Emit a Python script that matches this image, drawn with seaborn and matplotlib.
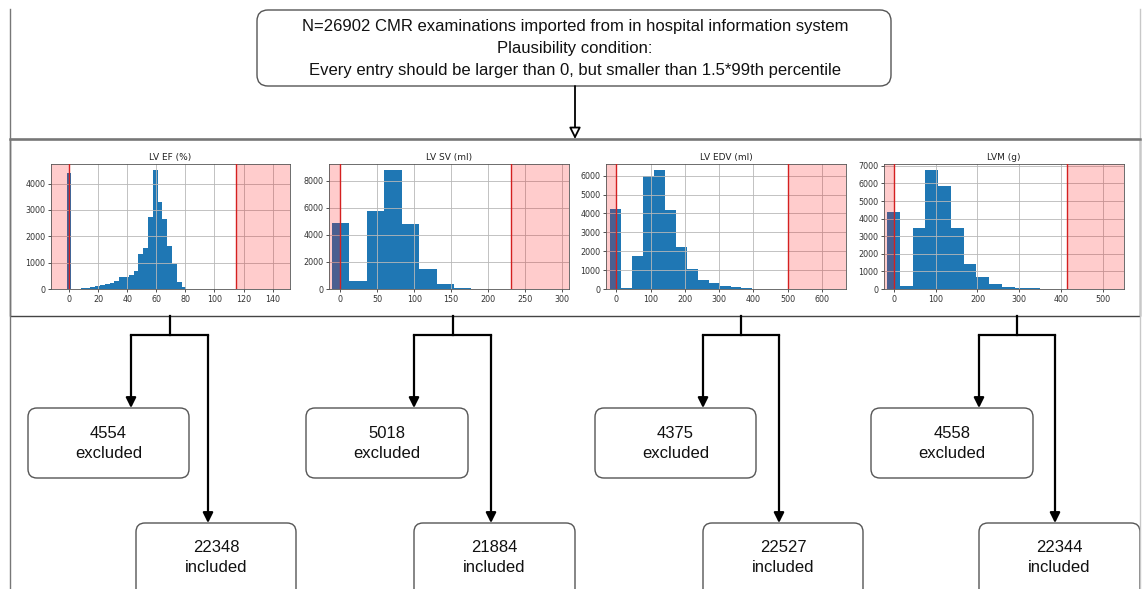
"""
Flow diagram of the CMR plausibility filter with one histogram per
measurement (LV EF, LV SV, LV EDV, LVM) and the excluded / included counts.
"""

import matplotlib
matplotlib.use("Agg")
import matplotlib.pyplot as plt
from matplotlib.patches import FancyBboxPatch, Rectangle
from matplotlib.ticker import MultipleLocator
import pandas as pd
import seaborn as sns

# ---- data -----------------------------------------------------------------
total_n = 26902
panel_titles = ["LV EF (%)", "LV SV (ml)", "LV EDV (ml)", "LVM (g)"]

ef_edges = [-1.9, 1.4, 4.7, 8.0, 11.3, 14.6, 17.9, 21.2, 24.5, 27.8, 31.1, 34.4,
            37.7, 41.0, 44.3, 47.6, 50.9, 54.2, 57.5, 60.8, 64.1, 67.4, 70.7,
            74.0, 77.3, 80.6, 83.9]
ef_counts = [4420, 0, 10, 30, 50, 80, 120, 170, 180, 220, 290, 440, 450, 520,
             700, 1320, 1550, 2730, 4520, 3320, 2660, 1620, 960, 250, 60, 10]

sv_edges = [-11.3, 12.3, 35.9, 59.5, 83.1, 106.7, 130.3, 153.9, 177.5, 201.1, 224.7]
sv_counts = [4890, 590, 5780, 8790, 4790, 1480, 370, 75, 15, 5]

edv_edges = [-18.8, 13.2, 45.2, 77.2, 109.2, 141.2, 173.2, 205.2, 237.2, 269.2,
             301.2, 333.2, 365.2, 397.2, 429.2, 461.2, 493.2]
edv_counts = [4230, 70, 1740, 6000, 6300, 4160, 2200, 1070, 490, 300, 160, 80,
              35, 15, 8, 4]

lvm_edges = [-16.8, 13.8, 44.4, 75.0, 105.6, 136.2, 166.8, 197.4, 228.0, 258.6,
             289.2, 319.8, 350.4, 381.0, 411.6]
lvm_counts = [4400, 170, 3490, 6770, 5860, 3450, 1400, 680, 265, 130, 60, 30, 15, 8]

# upper plausibility limit (1.5 * 99th percentile) per measurement
upper_limits = [114.5, 231, 502, 414]
excluded = [4554, 5018, 4375, 4558]
included = [22348, 21884, 22527, 22344]

# ---- layout (pixels of the 1144 x 589 picture) ----------------------------
W, H = 1144, 589
BLUE = "#1f77b4"
FLOW_FONT = ["Liberation Sans", "DejaVu Sans"]

hist_boxes = [(51, 164, 290, 289), (329, 164, 569, 289),
              (606, 164, 846, 289), (884, 164, 1124, 289)]
hist_xlims = [(-12.6, 152), (-15.4, 309.5), (-30, 670), (-24, 551)]
x_steps = [20, 50, 100, 100]
y_steps = [1000, 2000, 1000, 1000]

stems = [170, 453, 741, 1017]
left_x = [131, 414, 703, 979]
right_x = [208, 491, 779, 1055]
excl_boxes = [(28, 189), (306, 468), (595, 756), (871, 1033)]
incl_boxes = [(136, 296), (414, 575), (703, 863), (979, 1140)]


def px_rect(x0, y0, x1, y1):
    return [x0 / W, 1 - y1 / H, (x1 - x0) / W, (y1 - y0) / H]


def rounded_box(ax, x0, y0, x1, y1, radius=9):
    box = FancyBboxPatch((x0, y0), x1 - x0, y1 - y0,
                         boxstyle=f"round,pad=0,rounding_size={radius}",
                         fc="white", ec="#555555", lw=1.0)
    ax.add_patch(box)


def arrow(ax, x, y0, y1, hollow=False):
    ax.annotate("", xy=(x, y1), xytext=(x, y0),
                arrowprops=dict(arrowstyle="-|>", lw=1.3 if hollow else 1.6,
                                color="black", fc="white" if hollow else "black",
                                mutation_scale=17 if hollow else 15,
                                shrinkA=0, shrinkB=0))


def draw_hist(ax, edges, counts, title, limit, xlim, xstep, ystep):
    edges = list(edges)
    centers = [(a + b) / 2 for a, b in zip(edges[:-1], edges[1:])]
    df = pd.DataFrame({"value": centers, "count": counts})
    sns.histplot(data=df, x="value", weights="count", bins=edges, ax=ax,
                 color=BLUE, alpha=1.0, linewidth=0, edgecolor="none")
    ax.set_xlim(*xlim)
    ax.xaxis.set_major_locator(MultipleLocator(xstep))
    ax.yaxis.set_major_locator(MultipleLocator(ystep))
    ax.axvspan(xlim[0], 0, color="red", alpha=0.2, lw=0, zorder=2)
    ax.axvspan(limit, xlim[1], color="red", alpha=0.2, lw=0, zorder=2)
    ax.axvline(0, color="#d42020", lw=1.0, zorder=3)
    ax.axvline(limit, color="#d42020", lw=1.0, zorder=3)
    ax.grid(True, color="#b8b8b8", lw=0.6)
    ax.set_xlabel("")
    ax.set_ylabel("")
    ax.set_title(title, fontsize=6.5, pad=3, color="#222222")
    ax.tick_params(labelsize=5.8, length=2.5, width=0.6, pad=1.5, colors="#333333")
    for sp in ax.spines.values():
        sp.set_linewidth(0.6)
        sp.set_color("#555555")


fig = plt.figure(figsize=(W / 100, H / 100), dpi=100)

# background canvas for the flow chart, in pixel coordinates
canvas = fig.add_axes([0, 0, 1, 1])
canvas.set_xlim(0, W)
canvas.set_ylim(H, 0)
canvas.axis("off")

# outer frame lines
canvas.plot([10, 10], [9, H], color="#777777", lw=1.0)
canvas.plot([1140, 1140], [9, H], color="#c8c8c8", lw=1.0)

# top box
rounded_box(canvas, 257, 10, 891, 86, radius=11)
top_lines = [f"N={total_n} CMR examinations imported from in hospital information system",
             "Plausibility condition:",
             "Every entry should be larger than 0, but smaller than 1.5*99th percentile"]
for y, line in zip([27, 49, 71], top_lines):
    canvas.text(575, y, line, ha="center", va="center", fontsize=12,
                family=FLOW_FONT, color="#111111")
arrow(canvas, 575, 86, 139, hollow=True)

# frame around the histograms
canvas.add_patch(Rectangle((10, 139), 1130, 177, fc="white", ec="#444444", lw=1.0))
canvas.plot([10, 1140], [139, 139], color="#777777", lw=1.8)

# branches
for i in range(4):
    canvas.plot([stems[i], stems[i]], [316, 335], color="black", lw=1.6)
    canvas.plot([left_x[i], right_x[i]], [335, 335], color="black", lw=1.6,
                solid_capstyle="projecting")
    arrow(canvas, left_x[i], 335, 408)
    arrow(canvas, right_x[i], 335, 523)

    ex0, ex1 = excl_boxes[i]
    rounded_box(canvas, ex0, 408, ex1, 478)
    cx = (ex0 + ex1) / 2
    canvas.text(cx, 433, f"{excluded[i]}", ha="center", va="center",
                fontsize=12, family=FLOW_FONT, color="#111111")
    canvas.text(cx, 453, "excluded", ha="center", va="center",
                fontsize=12, family=FLOW_FONT, color="#111111")

    in0, in1 = incl_boxes[i]
    rounded_box(canvas, in0, 523, in1, 600)
    cx = (in0 + in1) / 2
    canvas.text(cx, 548, f"{included[i]}", ha="center", va="center",
                fontsize=12, family=FLOW_FONT, color="#111111")
    canvas.text(cx, 568, "included", ha="center", va="center",
                fontsize=12, family=FLOW_FONT, color="#111111")

# histograms
all_edges = [ef_edges, sv_edges, edv_edges, lvm_edges]
all_counts = [ef_counts, sv_counts, edv_counts, lvm_counts]
for i in range(4):
    ax = fig.add_axes(px_rect(*hist_boxes[i]))
    draw_hist(ax, all_edges[i], all_counts[i], panel_titles[i],
              upper_limits[i], hist_xlims[i], x_steps[i], y_steps[i])

fig.savefig("out.png", dpi=100)
plt.close(fig)
